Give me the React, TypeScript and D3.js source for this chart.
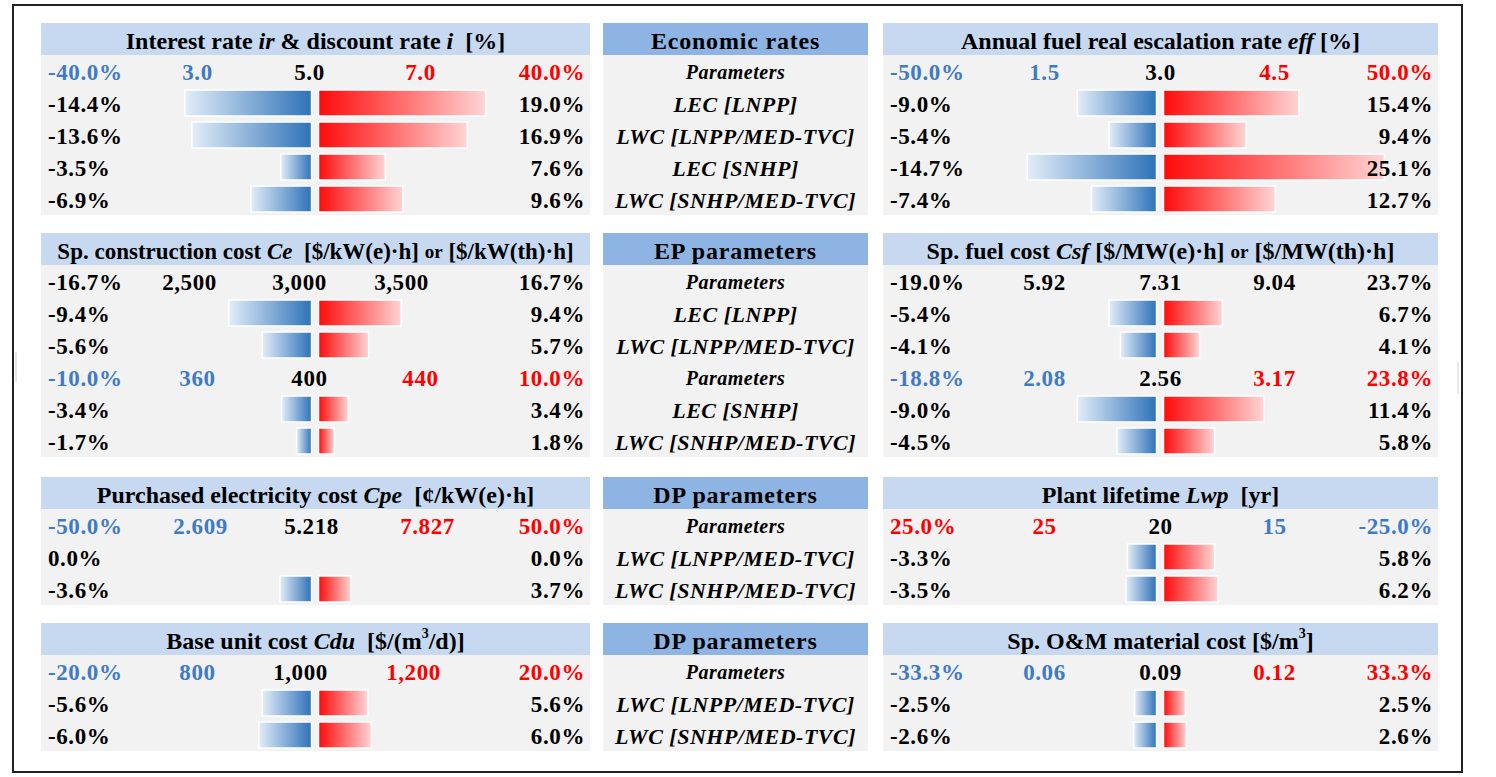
import React from "react";
import * as d3 from "d3";

// ---------------- DATA ----------------
const irHeader = ["-40.0%", "3.0", "5.0", "7.0", "40.0%"];
const irNeg = [-14.4, -13.6, -3.5, -6.9];
const irPos = [19.0, 16.9, 7.6, 9.6];

const effHeader = ["-50.0%", "1.5", "3.0", "4.5", "50.0%"];
const effNeg = [-9.0, -5.4, -14.7, -7.4];
const effPos = [15.4, 9.4, 25.1, 12.7];

const ceHeaderLNPP = ["-16.7%", "2,500", "3,000", "3,500", "16.7%"];
const ceNegLNPP = [-9.4, -5.6];
const cePosLNPP = [9.4, 5.7];
const ceHeaderSNHP = ["-10.0%", "360", "400", "440", "10.0%"];
const ceNegSNHP = [-3.4, -1.7];
const cePosSNHP = [3.4, 1.8];

const csfHeaderLNPP = ["-19.0%", "5.92", "7.31", "9.04", "23.7%"];
const csfNegLNPP = [-5.4, -4.1];
const csfPosLNPP = [6.7, 4.1];
const csfHeaderSNHP = ["-18.8%", "2.08", "2.56", "3.17", "23.8%"];
const csfNegSNHP = [-9.0, -4.5];
const csfPosSNHP = [11.4, 5.8];

const cpeHeader = ["-50.0%", "2.609", "5.218", "7.827", "50.0%"];
const cpeNeg = [0.0, -3.6];
const cpePos = [0.0, 3.7];

const lwpHeader = ["25.0%", "25", "20", "15", "-25.0%"];
const lwpNeg = [-3.3, -3.5];
const lwpPos = [5.8, 6.2];

const cduHeader = ["-20.0%", "800", "1,000", "1,200", "20.0%"];
const cduNeg = [-5.6, -6.0];
const cduPos = [5.6, 6.0];

const omHeader = ["-33.3%", "0.06", "0.09", "0.12", "33.3%"];
const omNeg = [-2.5, -2.6];
const omPos = [2.5, 2.6];

const middleTitles = ["Economic rates", "EP parameters", "DP parameters", "DP parameters"];
const econLabels = ["Parameters", "LEC [LNPP]", "LWC [LNPP/MED-TVC]", "LEC [SNHP]", "LWC [SNHP/MED-TVC]"];
const epLabels = ["Parameters", "LEC [LNPP]", "LWC [LNPP/MED-TVC]", "Parameters", "LEC [SNHP]", "LWC [SNHP/MED-TVC]"];
const dpLabels = ["Parameters", "LWC [LNPP/MED-TVC]", "LWC [SNHP/MED-TVC]"];

// title segments: [text, style] style: n normal, i italic, s small, p superscript
const irTitle = [["Interest rate ", "n"], ["ir", "i"], [" & discount rate ", "n"], ["i", "i"], ["  [%]", "n"]];
const effTitle = [["Annual fuel real escalation rate ", "n"], ["eff", "i"], [" [%]", "n"]];
const ceTitle = [["Sp. construction cost ", "n"], ["Ce", "i"], ["  [$/kW(e)·h] ", "n"], ["or", "s"], [" [$/kW(th)·h]", "n"]];
const csfTitle = [["Sp. fuel cost ", "n"], ["Csf", "i"], [" [$/MW(e)·h] ", "n"], ["or", "s"], [" [$/MW(th)·h]", "n"]];
const cpeTitle = [["Purchased electricity cost ", "n"], ["Cpe", "i"], ["  [¢/kW(e)·h]", "n"]];
const lwpTitle = [["Plant lifetime ", "n"], ["Lwp", "i"], ["  [yr]", "n"]];
const cduTitle = [["Base unit cost ", "n"], ["Cdu", "i"], ["  [$/(m", "n"], ["3", "p"], ["/d)]", "n"]];
const omTitle = [["Sp. O&M material cost [$/m", "n"], ["3", "p"], ["]", "n"]];

// ---------------- LAYOUT ----------------
const W = 1496;
const H = 777;
const FONT = "'Liberation Serif', 'Times New Roman', serif";
const BLUE_TXT = "#3f7bc4";
const RED_TXT = "#ff0000";
const colorOf: Record<string, string> = { b: BLUE_TXT, r: RED_TXT, k: "#000000" };

const LEFT = { x: 41, w: 549, cols: [-118, -6, 105] };
const MID = { x: 603, w: 265 };
const RIGHT = { x: 883, w: 555, cols: [-116, 0, 114] };
const SECTION_TOPS = [23, 233, 477, 623];
const BAND_H = 32;
const ROW_H = 32;
const VAL_FS = 23;
const TITLE_FS = 24;

const xBar = d3.scaleLinear().domain([0, 10]).range([0, 88]);
const fmtPct = (v: number) => `${Math.abs(v) < 1e-9 ? "0.0" : v.toFixed(1)}%`;

type Row =
  | { kind: "head"; labels: string[]; scheme: string; cols?: number[] }
  | { kind: "bar"; neg: number; pos: number };

const head = (labels: string[], scheme: string, cols?: number[]): Row => ({ kind: "head", labels, scheme, cols });
const bars = (neg: number[], pos: number[]): Row[] =>
  neg.map((n, i) => ({ kind: "bar", neg: n, pos: pos[i] } as Row));

const leftPanels = [
  { title: irTitle, fs: TITLE_FS, rows: [head(irHeader, "bbkrr"), ...bars(irNeg, irPos)] },
  {
    title: ceTitle,
    fs: 23,
    rows: [
      head(ceHeaderLNPP, "kkkkk", [-126, -16, 86]),
      ...bars(ceNegLNPP, cePosLNPP),
      head(ceHeaderSNHP, "bbkrr"),
      ...bars(ceNegSNHP, cePosSNHP),
    ],
  },
  { title: cpeTitle, fs: TITLE_FS, rows: [head(cpeHeader, "bbkrr", [-115, -4, 112]), ...bars(cpeNeg, cpePos)] },
  { title: cduTitle, fs: TITLE_FS, rows: [head(cduHeader, "bbkrr", [-118, -15, 98]), ...bars(cduNeg, cduPos)] },
];

const rightPanels = [
  { title: effTitle, fs: TITLE_FS, rows: [head(effHeader, "bbkrr"), ...bars(effNeg, effPos)] },
  {
    title: csfTitle,
    fs: TITLE_FS,
    rows: [
      head(csfHeaderLNPP, "kkkkk"),
      ...bars(csfNegLNPP, csfPosLNPP),
      head(csfHeaderSNHP, "bbkrr"),
      ...bars(csfNegSNHP, csfPosSNHP),
    ],
  },
  { title: lwpTitle, fs: TITLE_FS, rows: [head(lwpHeader, "rrkbb"), ...bars(lwpNeg, lwpPos)] },
  { title: omTitle, fs: TITLE_FS, rows: [head(omHeader, "bbkrr"), ...bars(omNeg, omPos)] },
];

const midLabels = [econLabels, epLabels, dpLabels, dpLabels];

function Title({ segs, cx, cy, fs }: { segs: any[]; cx: number; cy: number; fs: number }) {
  return (
    <text
      x={cx}
      y={cy}
      textAnchor="middle"
      dominantBaseline="central"
      fontFamily={FONT}
      fontWeight="bold"
      fontSize={fs}
      style={{ whiteSpace: "pre" }}
      fill="#000"
    >
      {segs.map((s, i) => {
        const [t, st] = s;
        const prev = i > 0 ? segs[i - 1][1] : "n";
        const dy = st === "p" ? -8 : prev === "p" ? 8 : 0;
        return (
          <tspan
            key={i}
            dy={dy || undefined}
            fontStyle={st === "i" ? "italic" : undefined}
            fontSize={st === "s" ? 19 : st === "p" ? 14 : undefined}
          >
            {t}
          </tspan>
        );
      })}
    </text>
  );
}

function SidePanel({ geo, top, panel }: any) {
  const cx = geo.x + geo.w / 2;
  const bodyTop = top + BAND_H;
  const n = panel.rows.length;
  const valText = (x: number, y: number, anchor: string, fill: string, s: string, key?: any) => (
    <text
      key={key}
      x={x}
      y={y}
      textAnchor={anchor as any}
      dominantBaseline="central"
      fontFamily={FONT}
      fontWeight="bold"
      fontSize={VAL_FS}
      letterSpacing={0.6}
      fill={fill}
    >
      {s}
    </text>
  );
  return (
    <g>
      <rect x={geo.x} y={top} width={geo.w} height={BAND_H} fill="#c6d9f1" />
      <rect x={geo.x} y={bodyTop} width={geo.w} height={n * ROW_H} fill="#f2f2f2" />
      <Title segs={panel.title} cx={cx} cy={top + BAND_H / 2 + 2} fs={panel.fs} />
      {panel.rows.map((r: Row, i: number) => {
        const cy = bodyTop + (i + 0.5) * ROW_H;
        const ty = cy + 1;
        if (r.kind === "head") {
          const cols = r.cols || geo.cols;
          const xs = [geo.x + 7, cx + cols[0], cx + cols[1], cx + cols[2], geo.x + geo.w - 5];
          const anchors = ["start", "middle", "middle", "middle", "end"];
          return (
            <g key={i}>
              {r.labels.map((l, j) => valText(xs[j], ty, anchors[j], colorOf[r.scheme[j]], l, j))}
            </g>
          );
        }
        const negW = xBar(Math.abs(r.neg));
        const posW = xBar(Math.abs(r.pos));
        const bh = 26;
        return (
          <g key={i}>
            {negW > 0 && (
              <rect
                x={cx - 4 - negW}
                y={cy - bh / 2}
                width={negW}
                height={bh}
                fill="url(#gBlue)"
                stroke="#ffffff"
                strokeWidth={1.5}
              />
            )}
            {posW > 0 && (
              <rect
                x={cx + 3}
                y={cy - bh / 2}
                width={posW}
                height={bh}
                fill="url(#gRed)"
                stroke="#ffffff"
                strokeWidth={1.5}
              />
            )}
            {valText(geo.x + 7, ty, "start", "#000", fmtPct(r.neg))}
            {valText(geo.x + geo.w - 5, ty, "end", "#000", fmtPct(r.pos))}
          </g>
        );
      })}
    </g>
  );
}

function MidPanel({ top, title, labels }: any) {
  const cx = MID.x + MID.w / 2;
  const bodyTop = top + BAND_H;
  return (
    <g>
      <rect x={MID.x} y={top} width={MID.w} height={BAND_H} fill="#8db4e2" />
      <rect x={MID.x} y={bodyTop} width={MID.w} height={labels.length * ROW_H} fill="#f2f2f2" />
      <text
        x={cx}
        y={top + BAND_H / 2 + 2}
        textAnchor="middle"
        dominantBaseline="central"
        fontFamily={FONT}
        fontWeight="bold"
        fontSize={24}
        letterSpacing={0.8}
      >
        {title}
      </text>
      {labels.map((l: string, i: number) => (
        <text
          key={i}
          x={cx}
          y={bodyTop + (i + 0.5) * ROW_H + 1}
          textAnchor="middle"
          dominantBaseline="central"
          fontFamily={FONT}
          fontWeight="bold"
          fontStyle="italic"
          fontSize={l === "Parameters" ? 20 : 22}
          letterSpacing={0.5}
        >
          {l}
        </text>
      ))}
    </g>
  );
}

export default function App() {
  return (
    <svg
      width={W}
      height={H}
      style={{ position: "absolute", left: 0, top: 0, background: "#ffffff" }}
    >
      <defs>
        <linearGradient id="gBlue" x1="0" x2="1" y1="0" y2="0">
          <stop offset="0%" stopColor="#e2edf8" />
          <stop offset="100%" stopColor="#2e72b8" />
        </linearGradient>
        <linearGradient id="gRed" x1="0" x2="1" y1="0" y2="0">
          <stop offset="0%" stopColor="#ff0a0a" />
          <stop offset="100%" stopColor="#ffd4d4" />
        </linearGradient>
      </defs>
      <rect x={0} y={0} width={W} height={H} fill="#ffffff" />
      <rect x={13} y={5} width={1449} height={767} fill="none" stroke="#222" strokeWidth={2} />
      <line x1={16} x2={16} y1={352} y2={382} stroke="#d0d0d0" strokeWidth={1} />
      <line x1={1458} x2={1458} y1={362} y2={394} stroke="#d0d0d0" strokeWidth={1} />
      {SECTION_TOPS.map((top, s) => (
        <g key={s}>
          <SidePanel geo={LEFT} top={top} panel={leftPanels[s]} />
          <MidPanel top={top} title={middleTitles[s]} labels={midLabels[s]} />
          <SidePanel geo={RIGHT} top={top} panel={rightPanels[s]} />
        </g>
      ))}
    </svg>
  );
}
